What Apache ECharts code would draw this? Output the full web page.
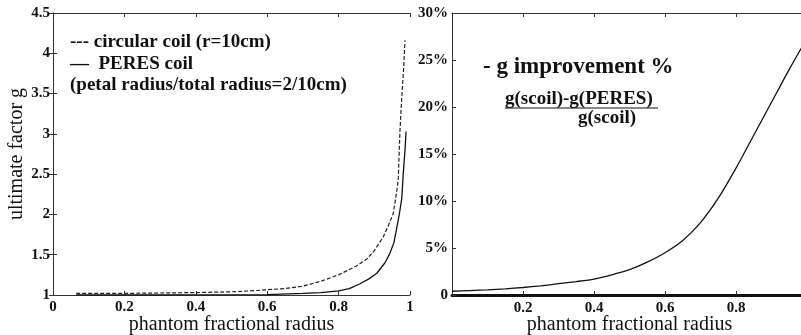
<!DOCTYPE html>
<html>
<head>
<meta charset="utf-8">
<script src="https://cdn.jsdelivr.net/npm/echarts@6/dist/echarts.min.js"></script>
<style>
  html, body { margin: 0; padding: 0; background: #fff; }
  #chart { width: 801px; height: 335px; }
</style>
</head>
<body>
<div id="chart"></div>
<script>
// left panel: ultimate g factor vs phantom fractional radius
const circularX = [0.065, 0.2, 0.3, 0.4, 0.5, 0.55, 0.6, 0.65, 0.7, 0.75, 0.8, 0.85, 0.88, 0.9, 0.925, 0.94, 0.953, 0.962, 0.967, 0.972, 0.977, 0.982, 0.986]
const circularG = [1.02, 1.02, 1.025, 1.03, 1.04, 1.05, 1.065, 1.08, 1.11, 1.17, 1.25, 1.36, 1.45, 1.55, 1.72, 1.87, 2.01, 2.26, 2.43, 3.05, 3.46, 3.8, 4.16]
const peresX = [0.065, 0.3, 0.6, 0.7, 0.75, 0.8, 0.83, 0.86, 0.885, 0.907, 0.93, 0.944, 0.955, 0.962, 0.97, 0.977, 0.981, 0.986, 0.989]
const peresG = [1.0, 1.0, 1.005, 1.02, 1.03, 1.05, 1.08, 1.14, 1.2, 1.27, 1.4, 1.52, 1.65, 1.81, 2.0, 2.2, 2.5, 2.8, 3.03]

// right panel: g improvement in percent
const improveX = [0, 0.05, 0.1, 0.15, 0.2, 0.25, 0.3, 0.35, 0.4, 0.45, 0.5, 0.55, 0.6, 0.65, 0.7, 0.75, 0.8, 0.85, 0.9, 0.95, 1.0]
const improvePct = [0.4, 0.47, 0.55, 0.66, 0.8, 0.98, 1.2, 1.43, 1.7, 2.15, 2.7, 3.5, 4.5, 5.8, 7.7, 10.3, 13.5, 17.0, 20.5, 24.0, 27.3]

const leftYLabels = ['1', '1.5', '2', '2.5', '3', '3.5', '4', '4.5']
const rightYLabels = ['0', '5%', '10%', '15%', '20%', '25%', '30%']
const leftXLabels = ['0', '0.2', '0.4', '0.6', '0.8', '1']
const rightXLabels = ['', '0.2', '0.4', '0.6', '0.8', '']

const legendLines = ['--- circular coil (r=10cm)', '\u2014  PERES coil', '(petal radius/total radius=2/10cm)']

const serif = '"Liberation Serif", "DejaVu Serif", serif'
const axisColor = '#333'
const ink = '#111'

const zip = (xs, ys) => xs.map((x, i) => [x, ys[i]])

const tickLbl = {
  fontFamily: serif, fontWeight: 'bold', fontSize: 15, color: ink
}
const nameStyle = { fontFamily: serif, fontSize: 20, color: ink }

const chart = echarts.init(document.getElementById('chart'))

const boxAxis = (gridIndex, position, extra) => Object.assign({
  gridIndex,
  type: 'value',
  position,
  axisLine: { show: true, lineStyle: { color: axisColor, width: 1 } },
  axisTick: { show: true, inside: true, length: 4, lineStyle: { color: axisColor } },
  axisLabel: { show: false },
  splitLine: { show: false }
}, extra)

chart.setOption({
  animation: false,
  backgroundColor: '#fff',
  grid: [
    { left: 53, right: 391, top: 13, bottom: 40, outerBoundsMode: 'none' },
    { left: 452, right: -6, top: 13, bottom: 40, outerBoundsMode: 'none' }
  ],
  xAxis: [
    boxAxis(0, 'bottom', {
      min: 0, max: 1, interval: 0.2,
      name: 'phantom fractional radius',
      nameLocation: 'middle', nameGap: 20, nameMoveOverlap: false, nameTextStyle: nameStyle,
      axisLabel: Object.assign({ show: true, margin: 5,
        formatter: v => leftXLabels[Math.round(v / 0.2)] }, tickLbl)
    }),
    boxAxis(0, 'top', { min: 0, max: 1, interval: 0.2 }),
    boxAxis(1, 'bottom', {
      min: 0, max: 1, interval: 0.2,
      name: 'phantom fractional radius',
      nameLocation: 'middle', nameGap: 20, nameMoveOverlap: false, nameTextStyle: nameStyle,
      axisLine: { show: true, lineStyle: { color: '#111', width: 3 } },
      axisLabel: Object.assign({ show: true, margin: 6,
        formatter: v => rightXLabels[Math.round(v / 0.2)] }, tickLbl)
    }),
    boxAxis(1, 'top', { min: 0, max: 1, interval: 0.2 })
  ],
  yAxis: [
    boxAxis(0, 'left', {
      min: 1, max: 4.5, interval: 0.5,
      name: 'ultimate factor g',
      nameLocation: 'middle', nameGap: 26, nameRotate: 90, nameMoveOverlap: false, nameTextStyle: nameStyle,
      axisLabel: Object.assign({ show: true, margin: 3,
        formatter: v => leftYLabels[Math.round((v - 1) / 0.5)] }, tickLbl)
    }),
    boxAxis(0, 'right', { min: 1, max: 4.5, interval: 0.5 }),
    boxAxis(1, 'left', {
      min: 0, max: 30, interval: 5,
      axisLabel: Object.assign({ show: true, margin: 4,
        formatter: v => rightYLabels[Math.round(v / 5)] }, tickLbl)
    })
  ],
  series: [
    {
      type: 'line', xAxisIndex: 0, yAxisIndex: 0,
      data: zip(circularX, circularG),
      showSymbol: false, smooth: false,
      lineStyle: { color: '#222', width: 1.2, type: [4, 2] }
    },
    {
      type: 'line', xAxisIndex: 0, yAxisIndex: 0,
      data: zip(peresX, peresG),
      showSymbol: false, smooth: false,
      lineStyle: { color: '#111', width: 1.3 }
    },
    {
      type: 'line', xAxisIndex: 2, yAxisIndex: 2,
      data: zip(improveX, improvePct),
      showSymbol: false, smooth: 0.25,
      lineStyle: { color: '#111', width: 1.3 }
    }
  ],
  graphic: [
    ...legendLines.map((t, i) => ({
      type: 'text', left: 70, top: 33 + i * 21.5,
      style: { text: t, fontFamily: serif, fontWeight: 'bold', fontSize: 19, fill: ink }
    })),
    {
      type: 'text', left: 483, top: 56,
      style: { text: '- g improvement %', fontFamily: serif, fontWeight: 'bold', fontSize: 23, fill: ink }
    },
    {
      type: 'text', left: 505, top: 90,
      style: { text: 'g(scoil)-g(PERES)', fontFamily: serif, fontWeight: 'bold', fontSize: 19, fill: ink }
    },
    {
      type: 'line', shape: { x1: 505, y1: 108, x2: 658, y2: 108 },
      style: { stroke: ink, lineWidth: 1 }
    },
    {
      type: 'text', x: 578, top: 109,
      style: { text: 'g(scoil)', align: 'center', fontFamily: serif, fontWeight: 'bold', fontSize: 19, fill: ink }
    }
  ]
})
</script>
</body>
</html>
